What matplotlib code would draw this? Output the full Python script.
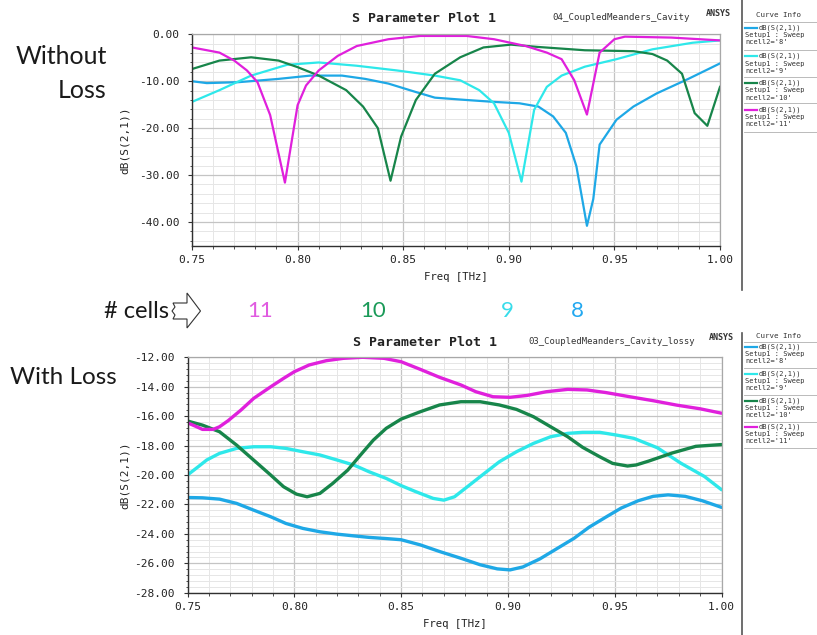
import matplotlib
matplotlib.use("Agg")
import matplotlib.pyplot as plt
from matplotlib.lines import Line2D
from matplotlib.patches import Polygon
from matplotlib.ticker import MultipleLocator, FormatStrFormatter

W, H = 817, 635
MONO = "DejaVu Sans Mono"
TXT = "Lato"

# ---- lossless cavity: dB(S(2,1)) vs frequency [THz] ----
f8_top = [0.750, 0.757, 0.772, 0.791, 0.806, 0.821, 0.832, 0.843, 0.856, 0.865, 0.880, 0.893,
          0.905, 0.914, 0.921, 0.927, 0.932, 0.937, 0.940, 0.943, 0.951, 0.959, 0.970, 0.985, 1.000]
s8_top = [-10.0, -10.4, -10.2, -9.5, -8.8, -8.8, -9.5, -10.5, -12.3, -13.5, -14.0, -14.4,
          -14.7, -15.4, -17.5, -21.0, -28.1, -40.8, -35.1, -23.5, -18.2, -15.4, -12.6, -9.5, -6.2]

f9_top = [0.750, 0.763, 0.778, 0.795, 0.810, 0.828, 0.847, 0.865, 0.877, 0.886, 0.893, 0.900,
          0.906, 0.912, 0.918, 0.925, 0.936, 0.951, 0.968, 0.987, 1.000]
s9_top = [-14.4, -11.9, -8.8, -6.5, -6.0, -6.7, -7.7, -8.8, -9.8, -11.9, -14.7, -21.0,
          -31.4, -16.1, -11.2, -8.8, -6.9, -5.3, -3.2, -1.8, -1.3]

f10_top = [0.750, 0.763, 0.778, 0.791, 0.800, 0.810, 0.823, 0.831, 0.838, 0.844, 0.849, 0.856,
           0.865, 0.877, 0.888, 0.901, 0.914, 0.936, 0.959, 0.968, 0.975, 0.982, 0.988, 0.994, 1.000]
s10_top = [-7.4, -5.6, -4.9, -5.6, -7.0, -8.8, -11.9, -15.4, -20.0, -31.2, -21.8, -14.0,
           -8.4, -4.9, -2.8, -2.2, -2.7, -3.4, -3.6, -4.2, -5.6, -8.4, -16.8, -19.5, -11.2]

f11_top = [0.750, 0.763, 0.770, 0.776, 0.781, 0.787, 0.794, 0.800, 0.804, 0.810, 0.819, 0.828,
           0.843, 0.858, 0.880, 0.893, 0.908, 0.918, 0.925, 0.931, 0.937, 0.943, 0.950, 0.955,
           0.977, 1.000]
s11_top = [-2.8, -3.9, -5.6, -7.7, -10.2, -17.2, -31.6, -15.1, -10.9, -7.7, -4.6, -2.5,
           -1.05, -0.35, -0.35, -1.05, -2.5, -3.9, -5.3, -9.8, -17.1, -3.9, -1.05, -0.5,
           -0.7, -1.3]

# ---- lossy cavity ----
f8_bot = [0.750, 0.757, 0.765, 0.773, 0.781, 0.789, 0.796, 0.804, 0.812, 0.820, 0.828, 0.835,
          0.843, 0.850, 0.859, 0.868, 0.878, 0.887, 0.895, 0.901, 0.907, 0.915, 0.923, 0.931,
          0.938, 0.946, 0.953, 0.961, 0.968, 0.975, 0.983, 0.991, 1.000]
s8_bot = [-21.53, -21.55, -21.64, -21.93, -22.39, -22.84, -23.29, -23.63, -23.86, -24.02, -24.14, -24.24,
          -24.32, -24.4, -24.75, -25.2, -25.66, -26.1, -26.38, -26.45, -26.25, -25.7, -25.0, -24.3,
          -23.55, -22.85, -22.25, -21.75, -21.45, -21.35, -21.45, -21.75, -22.2]

f9_bot = [0.750, 0.755, 0.759, 0.765, 0.773, 0.781, 0.789, 0.796, 0.804, 0.812, 0.820, 0.828,
          0.835, 0.843, 0.850, 0.857, 0.865, 0.870, 0.875, 0.881, 0.889, 0.896, 0.904, 0.912,
          0.920, 0.928, 0.935, 0.943, 0.951, 0.959, 0.970, 0.981, 0.992, 1.000]
s9_bot = [-20.0, -19.44, -18.98, -18.53, -18.19, -18.08, -18.08, -18.19, -18.42, -18.64, -18.98, -19.33,
          -19.78, -20.23, -20.72, -21.14, -21.59, -21.71, -21.48, -20.8, -19.89, -19.1, -18.42, -17.85,
          -17.4, -17.17, -17.1, -17.1, -17.29, -17.51, -18.15, -19.2, -20.1, -21.0]

f10_bot = [0.750, 0.757, 0.765, 0.773, 0.781, 0.789, 0.795, 0.801, 0.806, 0.812, 0.818, 0.825,
           0.831, 0.837, 0.843, 0.850, 0.859, 0.868, 0.878, 0.887, 0.896, 0.904, 0.912, 0.920,
           0.928, 0.935, 0.943, 0.949, 0.956, 0.960, 0.966, 0.977, 0.988, 1.000]
s10_bot = [-16.33, -16.61, -17.06, -17.97, -18.99, -20.01, -20.8, -21.3, -21.48, -21.25, -20.57, -19.67,
           -18.64, -17.63, -16.83, -16.2, -15.7, -15.24, -15.02, -15.02, -15.24, -15.54, -16.04, -16.72,
           -17.4, -18.12, -18.76, -19.21, -19.39, -19.32, -19.05, -18.5, -18.05, -17.93]

f11_bot = [0.750, 0.7535, 0.757, 0.762, 0.765, 0.769, 0.775, 0.781, 0.789, 0.795, 0.800, 0.807,
           0.815, 0.823, 0.832, 0.842, 0.850, 0.859, 0.868, 0.878, 0.885, 0.893, 0.901, 0.909,
           0.918, 0.928, 0.937, 0.946, 0.957, 0.968, 0.979, 0.990, 1.000]
s11_bot = [-16.45, -16.67, -16.9, -16.9, -16.72, -16.31, -15.59, -14.79, -14.0, -13.43, -12.98, -12.52,
           -12.23, -12.07, -12.0, -12.07, -12.3, -12.82, -13.36, -13.88, -14.34, -14.68, -14.72, -14.59,
           -14.34, -14.18, -14.22, -14.4, -14.68, -14.95, -15.25, -15.5, -15.8]

cells = ["8", "9", "10", "11"]
colors = ["#1ea8e6", "#2ee8ea", "#17854a", "#e020dc"]
label_colors = ["#22a8f0", "#38dcea", "#1a9a58", "#e05ae0"]

fig = plt.figure(figsize=(W / 100, H / 100), dpi=100)
fig.patch.set_facecolor("white")


def fx(x):
    return x / W


def fy(y):
    return 1 - y / H


def style_axes(ax, ymaj, ymin):
    ax.set_xlim(0.75, 1.00)
    ax.xaxis.set_major_locator(MultipleLocator(0.05))
    ax.xaxis.set_minor_locator(MultipleLocator(0.01))
    ax.yaxis.set_major_locator(MultipleLocator(ymaj))
    ax.yaxis.set_minor_locator(MultipleLocator(ymin))
    ax.xaxis.set_major_formatter(FormatStrFormatter("%.2f"))
    ax.yaxis.set_major_formatter(FormatStrFormatter("%.2f"))
    ax.grid(which="major", color="#c4c4c4", lw=0.9)
    ax.grid(which="minor", color="#e6e6e6", lw=0.7)
    ax.set_axisbelow(True)
    ax.tick_params(which="major", direction="out", length=2.6, width=0.8, color="#333333",
                   labelsize=8, labelcolor="#222222")
    ax.tick_params(axis="x", which="major", pad=4)
    ax.tick_params(axis="y", which="major", pad=6.5)
    ax.tick_params(which="minor", direction="out", length=1.8, width=0.6, color="#333333")
    for lab in ax.get_xticklabels() + ax.get_yticklabels():
        lab.set_family(MONO)
    for side in ("left", "bottom"):
        ax.spines[side].set_color("#303030")
        ax.spines[side].set_linewidth(1.0)
    for side in ("top", "right"):
        ax.spines[side].set_color("#a8a8a8")
        ax.spines[side].set_linewidth(0.9)
    ax.set_xlabel("Freq [THz]", family=MONO, fontsize=7.7, labelpad=5, color="#222222")
    ax.set_ylabel("dB(S(2,1))", family=MONO, fontsize=8, color="#222222")


# ---- top panel ----
ax1 = fig.add_axes([fx(192), fy(245.5), fx(720 - 192), (245.5 - 34.3) / H])
for f, s, c in zip([f8_top, f9_top, f10_top, f11_top], [s8_top, s9_top, s10_top, s11_top], colors):
    ax1.plot(f, s, color=c, lw=1.6, solid_joinstyle="round")
ax1.set_ylim(-45, 0)
style_axes(ax1, 10, 2)
ax1.yaxis.set_label_coords(-0.117, 0.5)

# ---- bottom panel ----
ax2 = fig.add_axes([fx(187.5), fy(592.7), fx(721.5 - 187.5), (592.7 - 357.3) / H])
for f, s, c in zip([f8_bot, f9_bot, f10_bot, f11_bot], [s8_bot, s9_bot, s10_bot, s11_bot], colors):
    ax2.plot(f, s, color=c, lw=2.4, solid_joinstyle="round", solid_capstyle="round")
ax2.set_ylim(-28, -12)
style_axes(ax2, 2, 0.4)
ax2.yaxis.set_label_coords(-0.108, 0.5)

# ---- titles ----
for tx, ty, sub, sx, sy, subsz, ax_, ay in [
        (424, 18.3, "04_CoupledMeanders_Cavity", 621, 17.5, 6.6, 718, 13),
        (425, 342.7, "03_CoupledMeanders_Cavity_lossy", 612, 341, 6.4, 721, 337)]:
    fig.text(fx(tx), fy(ty), "S Parameter Plot 1", family=MONO, fontsize=9.5,
             weight="bold", ha="center", va="center", color="#222222")
    fig.text(fx(sx), fy(sy), sub, family=MONO, fontsize=subsz, ha="center",
             va="center", color="#333333")
    fig.text(fx(ax_), fy(ay), "ANSYS", family=MONO, fontsize=6.0, weight="bold",
             ha="center", va="center", color="#333333")


# ---- curve info panels ----
def curve_info(y0, y_end, head_y, seps, offs):
    fig.add_artist(Line2D([fx(742), fx(742)], [fy(y0), fy(y_end)], color="#555555", lw=1.2))
    fig.text(fx(778), fy(head_y), "Curve Info", family=MONO, fontsize=5.4,
             ha="center", va="center", color="#333333")
    for k, (c, n) in enumerate(zip(colors, cells)):
        top = seps[k]
        fig.add_artist(Line2D([fx(744), fx(817)], [fy(top), fy(top)], color="#b0b0b0", lw=0.6))
        fig.add_artist(Line2D([fx(745), fx(757)], [fy(top + offs[0]), fy(top + offs[0])],
                              color=c, lw=1.6))
        fig.text(fx(759), fy(top + offs[0]), "dB(S(2,1))", family=MONO, fontsize=5.0,
                 va="center", ha="left", color="#333333")
        fig.text(fx(745), fy(top + offs[1]), "Setup1 : Sweep", family=MONO, fontsize=5.0,
                 va="center", ha="left", color="#333333")
        fig.text(fx(745), fy(top + offs[2]), f"ncell2='{n}'", family=MONO, fontsize=5.0,
                 va="center", ha="left", color="#333333")
    fig.add_artist(Line2D([fx(744), fx(817)], [fy(seps[-1]), fy(seps[-1])], color="#b0b0b0", lw=0.6))


curve_info(0, 290, 15, [21.7, 50, 76.7, 103.3, 131.7], (6.2, 13.6, 20.8))
curve_info(333, 635, 335.5, [341.7, 368.3, 395, 421.7, 448.3], (5.5, 12.6, 19.6))

# ---- annotations ----
fig.text(fx(107), fy(56), "Without", family=TXT, fontsize=18, ha="right", va="center", color="#1a1a1a")
fig.text(fx(107), fy(90), "Loss", family=TXT, fontsize=18, ha="right", va="center", color="#1a1a1a")
fig.text(fx(10), fy(378), "With Loss", family=TXT, fontsize=17.5, ha="left", va="center", color="#1a1a1a")
fig.text(fx(169), fy(311), "# cells", family=TXT, fontsize=17, ha="right", va="center", color="#1a1a1a")

arrow_px = [(173, 303), (187, 303), (187, 293), (200.5, 311), (187, 328), (187, 319), (173, 319),
            (175, 315), (172, 311), (175, 307)]
fig.add_artist(Polygon([(fx(x), fy(y)) for x, y in arrow_px], closed=True, facecolor="white",
                       edgecolor="#333333", lw=0.8, transform=fig.transFigure))

for n, c, xc in zip(cells, label_colors, [577, 507, 373, 260]):
    fig.text(fx(xc), fy(311), n, family=TXT, fontsize=16, ha="center", va="center", color=c)

fig.savefig("out.png", dpi=100, facecolor="white")
